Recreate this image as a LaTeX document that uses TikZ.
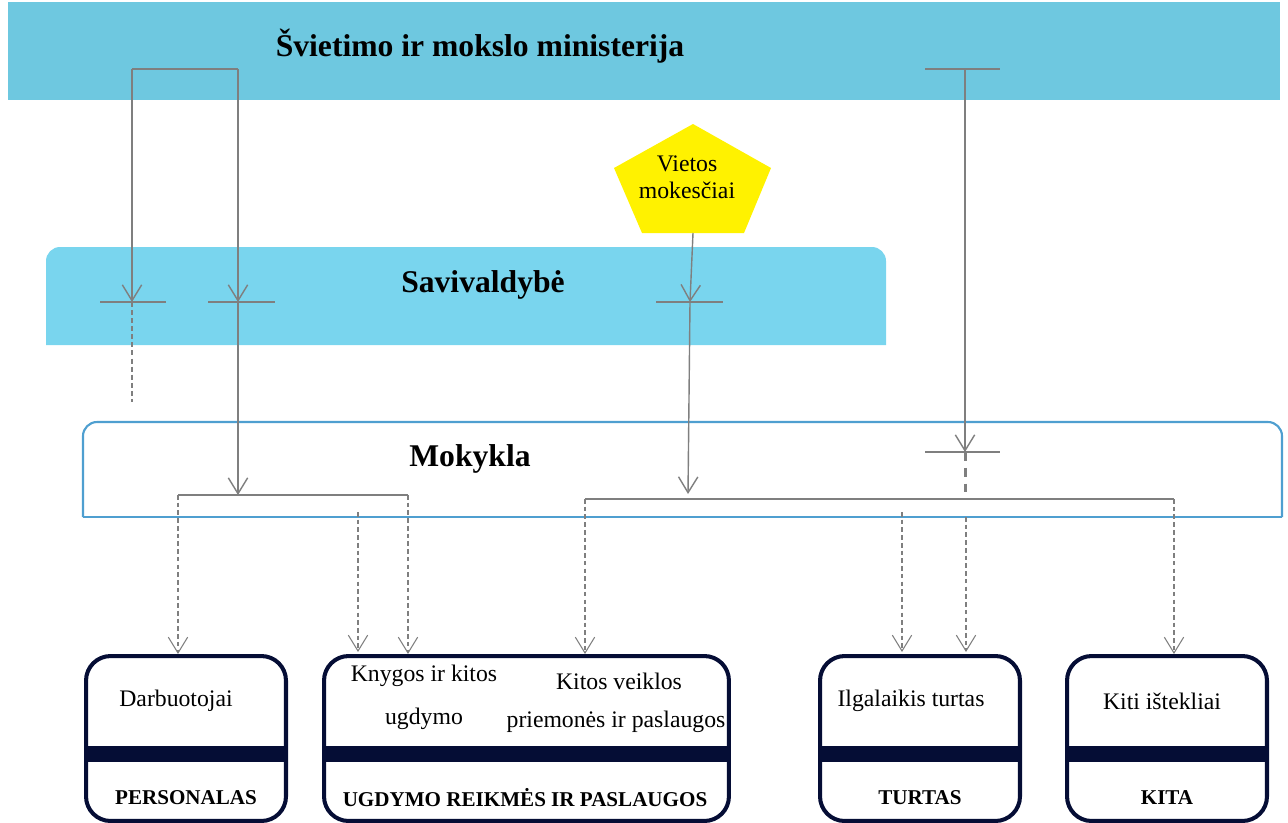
\documentclass[tikz,border=0pt]{standalone}
\usepackage{fontspec}
\setmainfont{Liberation Serif}
\usetikzlibrary{positioning,arrows.meta,calc}
\definecolor{sky}{HTML}{6EC8E0}
\definecolor{skylight}{HTML}{79D5EE}
\definecolor{frame}{HTML}{4F9FD0}
\definecolor{navy}{HTML}{050D35}
\definecolor{wire}{HTML}{7F7F7F}
\tikzset{
  %% nodes
  band/.style   = {anchor=north west, inner sep=0pt, draw=none},
  title/.style  = {font=\fontsize{18}{21}\selectfont\bfseries},
  lbl/.style    = {font=\fontsize{13.5}{16}\selectfont, align=center},
  cat/.style    = {font=\fontsize{12}{14}\selectfont\bfseries},
  res/.style    = {anchor=north west, inner sep=0pt, draw=navy, line width=2.3pt,
                   rounded corners=14pt, fill=white, minimum height=3.3cm},
  %% arrows
  flow/.style   = {draw=wire, line width=0.8pt, -{Straight Barb[length=9pt,width=11pt]}},
  feed/.style   = {draw=wire, line width=0.6pt, dash pattern=on 2.6pt off 1.8pt,
                   -{Straight Barb[length=9pt,width=11pt]}},
  bar/.style    = {draw=wire, line width=0.8pt},
}

\begin{document}
\begin{tikzpicture}[x=0.02cm, y=-0.02cm]
\useasboundingbox (0,0) rectangle (1288,822);

%% ---- bands ----
\node[band, fill=sky, minimum width=25.44cm, minimum height=1.96cm] (smm) at (8,2) {};
\node[title] (smmT) at (480,46) {Švietimo ir mokslo ministerija};

\coordinate (sav) at (466,296);
\fill[skylight, rounded corners=8pt] (46,345) -- (46,247) -- (886,247) -- (886,345);
\node[title] (savT) at (483,285) {Savivaldybė};

\fill[white, rounded corners=8pt] (83,517) -- (83,422) -- (1282,422) -- (1282,517);
\draw[frame, line width=1.2pt, rounded corners=8pt] (83,517) -- (83,422) -- (1282,422) -- (1282,517);
\draw[frame, line width=1.2pt] (83,517) -- (1282,517);
\node[title] (mokT) at (470,459) {Mokykla};

%% ---- local taxes ----
\fill[yellow] (693,124) -- (771,168) -- (744,233) -- (642,233) -- (614,168) -- cycle;
\node[lbl, font=\fontsize{13.5}{15.5}\selectfont] (tax) at (687,177) {Vietos\\mokesčiai};
\coordinate (taxB) at (693,233);

%% ---- junction points ----
\coordinate (aTop) at (132,69);   \coordinate (bTop) at (238,69);
\coordinate (aSav) at (132,302);  \coordinate (bSav) at (238,302);
\coordinate (cSav) at (690,302);  \coordinate (aEnd) at (132,402);
\coordinate (dTop) at (965,69);   \coordinate (dMok) at (965,452);
\coordinate (bMok) at (238,495);  \coordinate (cMok) at (688,494);
\coordinate (dBar) at (965,499);

\draw[bar] (aTop) -- (bTop);
\draw[bar] (925,69) -- (1000,69);
\draw[bar] (100,302) -- (166,302);
\draw[bar] (208,302) -- (275,302);
\draw[bar] (656,302) -- (723,302);
\draw[bar] (925,452) -- (1000,452);

\draw[flow] (aTop) -- (aSav);
\draw[flow] (bTop) -- (bSav);
\draw[flow] (bSav) -- (bMok);
\draw[flow] (taxB) -- (cSav);
\draw[flow] (cSav) -- (cMok);
\draw[flow] (dTop) -- (dMok);
\draw[wire, line width=0.8pt, dash pattern=on 2.8pt off 1.8pt] (aSav) -- (aEnd);
\draw[wire, line width=1.7pt, dash pattern=on 5pt off 4pt] (dMok) -- (dBar);

%% ---- school brackets ----
\coordinate (lA) at (178,495);  \coordinate (lB) at (408,495);
\coordinate (rA) at (585,499);  \coordinate (rB) at (1174,499);
\draw[bar] (lA) -- (lB);
\draw[bar] (rA) -- (rB);

%% ---- resource boxes ----
\node[res, minimum width=4cm]    (pers) at (84,654) {};
\node[res, minimum width=8.1cm]  (ugd)  at (322,654) {};
\node[res, minimum width=4cm]    (turt) at (818,654) {};
\node[res, minimum width=4cm]    (kita) at (1065,654) {};
\foreach \b in {pers,ugd,turt,kita}
  \fill[navy] ($(\b.north west)+(0,92)$) rectangle ($(\b.north east)+(0,108)$);

\node[lbl] (darb) at (176,701) {Darbuotojai};
\node[cat] (persT) at (186,798) {PERSONALAS};
\node[lbl] (knyg) at (424,676) {Knygos ir kitos};
\node[lbl] (ugdy) at (424,719) {ugdymo};
\node[lbl] (veik) at (619,681) {Kitos veiklos};
\node[lbl] (prie) at (616,722) {priemonės ir paslaugos};
\node[cat] (ugdT) at (525,798) {UGDYMO REIKMĖS IR PASLAUGOS};
\node[lbl] (ilga) at (911,701) {Ilgalaikis turtas};
\node[cat] (turtT) at (920,798) {TURTAS};
\node[lbl] (isti) at (1162,701) {Kiti ištekliai};
\node[cat] (kitaT) at (1167,798) {KITA};

%% ---- feeds into boxes ----
\draw[feed] (lA) -- (lA |- pers.north);
\draw[feed] (358,512) -- (358,652);
\draw[feed] (lB) -- (lB |- ugd.north);
\draw[feed] (rA) -- (rA |- ugd.north);
\draw[feed] (902,512) -- (902,652);
\draw[feed] (966,517) -- (966,652);
\draw[feed] (rB) -- (rB |- kita.north);
\end{tikzpicture}
\end{document}
